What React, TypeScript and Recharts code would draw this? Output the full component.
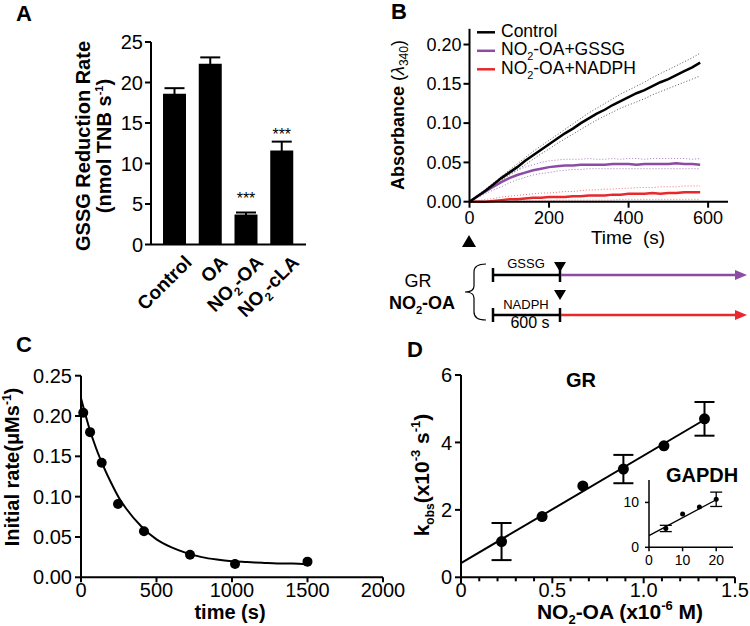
import React from "react";
import {
  BarChart, Bar, XAxis, YAxis, ErrorBar, LabelList,
  LineChart, Line, ComposedChart, Scatter,
} from "recharts";

const FONT = '"Liberation Sans", Arial, Helvetica, sans-serif';
const PURPLE = "#8d4ba6";
const RED = "#e8282c";

// A: GSSG reduction rate
const rateCats = ["Control", "OA", "NO2-OA", "NO2-cLA"];
const rateMeans = [18.6, 22.3, 3.7, 11.6];
const rateErrs = [0.7, 0.8, 0.25, 1.1];
const rateSig = ["", "", "***", "***"];

// B: absorbance traces (s)
const bTime = [0, 20, 40, 60, 80, 100, 120, 140, 160, 180, 200, 220, 240, 260, 280, 300, 320, 340, 360, 380, 400, 420, 440, 460, 480, 500, 520, 540, 560, 580];
const ctrl = [0, 0.007, 0.014, 0.022, 0.030, 0.037, 0.044, 0.052, 0.059, 0.066, 0.073, 0.080, 0.087, 0.093, 0.100, 0.106, 0.112, 0.117, 0.123, 0.128, 0.133, 0.138, 0.142, 0.147, 0.152, 0.156, 0.161, 0.166, 0.171, 0.177];
const ctrlHi = [0, 0.008, 0.016, 0.024, 0.032, 0.040, 0.048, 0.056, 0.064, 0.071, 0.078, 0.085, 0.092, 0.099, 0.106, 0.113, 0.119, 0.125, 0.131, 0.137, 0.142, 0.147, 0.152, 0.158, 0.163, 0.168, 0.173, 0.178, 0.183, 0.189];
const ctrlLo = [0, 0.006, 0.012, 0.019, 0.027, 0.034, 0.040, 0.047, 0.054, 0.061, 0.067, 0.074, 0.080, 0.086, 0.092, 0.098, 0.104, 0.109, 0.114, 0.119, 0.123, 0.127, 0.131, 0.136, 0.140, 0.144, 0.148, 0.152, 0.156, 0.160];
const gssg = [0, 0.007, 0.013, 0.019, 0.025, 0.030, 0.034, 0.037, 0.040, 0.042, 0.044, 0.045, 0.046, 0.046, 0.047, 0.047, 0.047, 0.047, 0.048, 0.048, 0.048, 0.047, 0.048, 0.048, 0.048, 0.048, 0.049, 0.048, 0.048, 0.047];
const gssgHi = [0, 0.008, 0.015, 0.022, 0.029, 0.035, 0.040, 0.044, 0.047, 0.050, 0.052, 0.053, 0.054, 0.054, 0.054, 0.055, 0.054, 0.054, 0.055, 0.054, 0.055, 0.055, 0.054, 0.055, 0.055, 0.055, 0.055, 0.055, 0.054, 0.055];
const gssgLo = [0, 0.005, 0.010, 0.015, 0.019, 0.024, 0.028, 0.031, 0.034, 0.036, 0.037, 0.039, 0.040, 0.041, 0.041, 0.042, 0.042, 0.042, 0.042, 0.042, 0.042, 0.042, 0.042, 0.042, 0.042, 0.042, 0.042, 0.042, 0.042, 0.042];
const nadph = [0, 0, 0, 0.001, 0.002, 0.003, 0.003, 0.004, 0.005, 0.005, 0.006, 0.006, 0.006, 0.007, 0.007, 0.008, 0.008, 0.008, 0.009, 0.009, 0.010, 0.010, 0.010, 0.011, 0.010, 0.011, 0.011, 0.012, 0.012, 0.012];
const nadphHi = [0, 0.001, 0.003, 0.004, 0.006, 0.007, 0.008, 0.009, 0.010, 0.011, 0.011, 0.012, 0.013, 0.013, 0.014, 0.015, 0.015, 0.016, 0.016, 0.017, 0.017, 0.018, 0.018, 0.018, 0.019, 0.019, 0.019, 0.020, 0.020, 0.020];
const nadphLo = [0, 0, 0, 0, 0, 0, 0.001, 0.001, 0.001, 0.001, 0.001, 0.002, 0.002, 0.002, 0.002, 0.002, 0.002, 0.002, 0.002, 0.003, 0.003, 0.003, 0.003, 0.003, 0.003, 0.003, 0.003, 0.003, 0.003, 0.003];
const bTicksX = [0, 200, 400, 600];
const bTicksY = [0, 0.05, 0.1, 0.15, 0.2];

// C: initial rate vs preincubation time
const cTime = [15, 60, 137, 245, 417, 722, 1020, 1500];
const cRate = [0.204, 0.180, 0.142, 0.091, 0.057, 0.028, 0.0165, 0.0194];
const cFitTime = [0, 50, 100, 150, 200, 250, 300, 400, 500, 600, 700, 800, 900, 1000, 1100, 1200, 1300, 1400, 1500];
const cFitRate = [0.222, 0.188, 0.160, 0.137, 0.117, 0.099, 0.085, 0.063, 0.047, 0.037, 0.030, 0.025, 0.022, 0.020, 0.019, 0.018, 0.017, 0.017, 0.016];

// D: kobs vs NO2-OA, GR and GAPDH inset
const grConc = [0.222, 0.444, 0.667, 0.889, 1.111, 1.333];
const grK = [1.06, 1.80, 2.71, 3.21, 3.90, 4.70];
const grErr = [0.55, 0, 0, 0.42, 0, 0.5];
const grFitX = [0, 1.335];
const grFitY = [0.42, 4.68];
const dTicksX = [0, 0.1, 0.2, 0.3, 0.4, 0.5, 0.6, 0.7, 0.8, 0.9, 1.0, 1.1, 1.2, 1.3, 1.4, 1.5];
const gapdhConc = [5, 10, 15, 20];
const gapdhK = [4.2, 7.4, 9.0, 10.7];
const gapdhErr = [0.7, 0, 0, 1.6];
const gapdhFitX = [0, 20];
const gapdhFitY = [2.6, 10.6];

const barData = rateCats.map((c, i) => ({ cat: c, v: rateMeans[i], err: rateErrs[i], sig: rateSig[i] }));
const traceData = bTime.map((t, i) => ({
  t, ctrl: ctrl[i], ctrlHi: ctrlHi[i], ctrlLo: ctrlLo[i],
  gssg: gssg[i], gssgHi: gssgHi[i], gssgLo: gssgLo[i],
  nadph: nadph[i], nadphHi: nadphHi[i], nadphLo: nadphLo[i],
}));
const cPts = cTime.map((x, i) => ({ x, y: cRate[i] }));
const cFit = cFitTime.map((x, i) => ({ x, y: cFitRate[i] }));
const grPts = grConc.map((x, i) => ({ x, y: grK[i], err: grErr[i] }));
const grFit = grFitX.map((x, i) => ({ x, y: grFitY[i] }));
const gaPts = gapdhConc.map((x, i) => ({ x, y: gapdhK[i], err: gapdhErr[i] }));
const gaFit = gapdhFitX.map((x, i) => ({ x, y: gapdhFitY[i] }));

const traces = [
  { key: "ctrl", name: "Control", color: "#000", band: "#555" },
  { key: "gssg", name: "NO2-OA+GSSG", color: PURPLE, band: "#a57dbd" },
  { key: "nadph", name: "NO2-OA+NADPH", color: RED, band: "#ef7373" },
];

const axisStyle = { stroke: "#000", strokeWidth: 2 };
const tickFont = (size: number) => ({ fill: "#000", fontSize: size, fontFamily: FONT });

function chem(label: string, size: number) {
  if (!label.startsWith("NO2")) return label;
  const d = size * 0.28;
  return (
    <>
      NO
      <tspan dy={d} fontSize={size * 0.62}>2</tspan>
      <tspan dy={-d}>{label.slice(3)}</tspan>
    </>
  );
}

function RotTick(props: any) {
  const { x, y, payload } = props;
  const ax = x + 18;
  const ay = y + 19;
  return (
    <text x={ax} y={ay} transform={`rotate(-45 ${ax} ${ay})`} textAnchor="end"
      fontSize={19} fontWeight="bold" fontFamily={FONT} fill="#000">
      {chem(payload.value, 19)}
    </text>
  );
}

function DTick(props: any) {
  const { x, y, payload } = props;
  const v = payload.value;
  const major = Math.abs(v * 2 - Math.round(v * 2)) < 1e-6;
  return (
    <g>
      <line x1={x} x2={x} y1={y} y2={y + (major ? 6 : 4)} stroke="#000" strokeWidth={2} />
      {major && (
        <text x={x} y={y + 20} textAnchor="middle" fontSize={20} fontFamily={FONT} fill="#000">
          {v === 0 ? "0" : v.toFixed(1)}
        </text>
      )}
    </g>
  );
}

const dot = (r: number) => (p: any) => <circle cx={p.cx} cy={p.cy} r={r} fill="#000" />;

function StarLabel(p: any) {
  if (!p.value) return null;
  return (
    <text x={p.x + p.width / 2} y={p.y - 11} textAnchor="middle" fontSize={16} fontFamily={FONT} fill="#000">
      {p.value}
    </text>
  );
}

function Overlay() {
  const bold = { fontWeight: "bold" as const };
  return (
    <svg width={750} height={626} style={{ position: "absolute", left: 0, top: 0, pointerEvents: "none" }}
      fontFamily={FONT} fill="#000">
      {/* panel letters */}
      <text x={16} y={20.5} fontSize={22} {...bold}>A</text>
      <text x={391} y={19} fontSize={22} {...bold}>B</text>
      <text x={16} y={352} fontSize={22} {...bold}>C</text>
      <text x={407} y={357} fontSize={22} {...bold}>D</text>

      {/* A axis title */}
      <text x={90} y={146} transform="rotate(-90 90 146)" textAnchor="middle" fontSize={20} {...bold}>
        GSSG Reduction Rate
      </text>
      <text x={111} y={146} transform="rotate(-90 111 146)" textAnchor="middle" fontSize={20} {...bold}>
        (nmol TNB s<tspan dy={-8} fontSize={11}>-1</tspan><tspan dy={8}>)</tspan>
      </text>

      {/* B axis titles */}
      <text x={404} y={115} transform="rotate(-90 404 115)" textAnchor="middle" fontSize={18}>
        <tspan {...bold}>Absorbance</tspan> (<tspan fontStyle="italic">λ</tspan>
        <tspan dy={4} fontSize={12}>340</tspan><tspan dy={-4}>)</tspan>
      </text>
      <text x={628} y={244} textAnchor="middle" fontSize={19} style={{ whiteSpace: "pre" }}>Time  (s)</text>

      {/* B legend */}
      {traces.map((s, i) => (
        <g key={s.key}>
          <line x1={477} x2={495} y1={32.3 + i * 18.5} y2={32.3 + i * 18.5} stroke={s.color} strokeWidth={2.5} />
          <text x={501} y={36.5 + i * 18.7} fontSize={17.5}>{chem(s.name, 17.5)}</text>
        </g>
      ))}

      {/* B protocol scheme */}
      <polygon points="469,235 462,247 476,247" fill="#000" />
      <text x={418} y={287} textAnchor="middle" fontSize={18}>GR</text>
      <text x={422} y={309} textAnchor="middle" fontSize={18} {...bold}>{chem("NO2-OA", 18)}</text>
      <path d="M486,264 Q474,264 474,272 L474,286 Q474,292 465,292 Q474,292 474,298 L474,312 Q474,320 486,320"
        fill="none" stroke="#000" strokeWidth={1.2} />
      <text x={526} y={268} textAnchor="middle" fontSize={13}>GSSG</text>
      <text x={526} y={309} textAnchor="middle" fontSize={13}>NADPH</text>
      <text x={530} y={328} textAnchor="middle" fontSize={16}>600 s</text>
      {[275, 315].map((yy, i) => (
        <g key={yy}>
          <line x1={493} x2={560} y1={yy} y2={yy} stroke="#000" strokeWidth={2.5} />
          <line x1={493} x2={493} y1={yy - 7} y2={yy + 7} stroke="#000" strokeWidth={2.5} />
          <line x1={560} x2={560} y1={yy - 7} y2={yy + 7} stroke="#000" strokeWidth={2.5} />
          <line x1={561} x2={737} y1={yy} y2={yy} stroke={i === 0 ? PURPLE : RED} strokeWidth={2.5} />
          <polygon points={`735,${yy - 5} 747,${yy} 735,${yy + 5}`} fill={i === 0 ? PURPLE : RED} />
          <polygon points={`554,${yy - 13 - i * 12} 566,${yy - 13 - i * 12} 560,${yy - 3 - i * 12}`} fill="#000" />
        </g>
      ))}

      {/* C axis titles */}
      <text x={19} y={467} transform="rotate(-90 19 467)" textAnchor="middle" fontSize={20} {...bold}>
        Initial rate(μMs<tspan dy={-8} fontSize={12}>-1</tspan><tspan dy={8}>)</tspan>
      </text>
      <text x={230} y={619} textAnchor="middle" fontSize={20} {...bold}>time (s)</text>

      {/* D axis titles */}
      <text x={429} y={475} transform="rotate(-90 429 475)" textAnchor="middle" fontSize={21} {...bold}>
        k<tspan dy={5} fontSize={12}>obs</tspan><tspan dy={-5}>(x10</tspan>
        <tspan dy={-9} fontSize={13}>-3</tspan><tspan dy={9}> s</tspan>
        <tspan dy={-9} fontSize={13}>-1</tspan><tspan dy={9}>)</tspan>
      </text>
      <text x={620} y={619} textAnchor="middle" fontSize={21} {...bold}>
        NO<tspan dy={5} fontSize={13}>2</tspan><tspan dy={-5}>-OA (x10</tspan>
        <tspan dy={-9} fontSize={13}>-6</tspan><tspan dy={9}> M)</tspan>
      </text>
      <text x={581} y={387} textAnchor="middle" fontSize={20} {...bold}>GR</text>
      <text x={702} y={482} textAnchor="middle" fontSize={20} {...bold}>GAPDH</text>
    </svg>
  );
}

export default function App() {
  const abs = (left: number, top: number) => ({ position: "absolute" as const, left, top });
  return (
    <div style={{ position: "absolute", left: 0, top: 0, width: 750, height: 626, background: "#fff", fontFamily: FONT }}>
      {/* A */}
      <div style={abs(0, 0)}>
        <BarChart width={330} height={345} data={barData} margin={{ top: 42, right: 24, left: 100, bottom: 0 }} barSize={23}>
          <XAxis dataKey="cat" height={100.5} axisLine={axisStyle} tickLine={false} tickSize={0} tickMargin={0}
            padding={{ left: 6, right: 6 }} interval={0} tick={<RotTick />} />
          <YAxis width={51} domain={[0, 25]} ticks={[0, 5, 10, 15, 20, 25]} interval={0} axisLine={axisStyle}
            tickLine={axisStyle} tickSize={6} tickMargin={2} tick={tickFont(20)} />
          <Bar dataKey="v" fill="#000" isAnimationActive={false}>
            <ErrorBar dataKey="err" width={10} stroke="#000" strokeWidth={2} direction="y" />
            <LabelList dataKey="sig" content={StarLabel} />
          </Bar>
        </BarChart>
      </div>

      {/* B */}
      <div style={abs(380, 0)}>
        <LineChart width={370} height={260} data={traceData} margin={{ top: 28.8, right: 22, left: 39.5, bottom: 28.3 }}>
          <XAxis dataKey="t" type="number" domain={[0, 650]} ticks={bTicksX} interval={0} height={30}
            axisLine={axisStyle} tickLine={axisStyle} tickSize={6} tickMargin={4} tick={tickFont(18)} />
          <YAxis type="number" domain={[0, 0.22]} ticks={bTicksY} interval={0} width={50}
            axisLine={axisStyle} tickLine={axisStyle} tickSize={6} tickMargin={2} tick={tickFont(18)}
            tickFormatter={(v: number) => v.toFixed(2)} />
          {traces.map((s) => (
            <Line key={s.key + "Hi"} dataKey={s.key + "Hi"} stroke={s.band} strokeWidth={1} strokeDasharray="1 2"
              dot={false} isAnimationActive={false} />
          ))}
          {traces.map((s) => (
            <Line key={s.key + "Lo"} dataKey={s.key + "Lo"} stroke={s.band} strokeWidth={1} strokeDasharray="1 2"
              dot={false} isAnimationActive={false} />
          ))}
          {traces.slice().reverse().map((s) => (
            <Line key={s.key} dataKey={s.key} stroke={s.color} strokeWidth={2.5} dot={false} isAnimationActive={false} />
          ))}
        </LineChart>
      </div>

      {/* C */}
      <div style={abs(0, 300)}>
        <ComposedChart width={420} height={326} margin={{ top: 75.7, right: 37, left: 26, bottom: 18.7 }}>
          <XAxis dataKey="x" type="number" domain={[0, 2000]} ticks={[0, 500, 1000, 1500, 2000]} interval={0} height={30}
            axisLine={axisStyle} tickLine={axisStyle} tickSize={5} tickMargin={0} tick={tickFont(20)} />
          <YAxis dataKey="y" type="number" domain={[0, 0.25]} ticks={[0, 0.05, 0.1, 0.15, 0.2, 0.25]} interval={0} width={55}
            axisLine={axisStyle} tickLine={axisStyle} tickSize={6} tickMargin={3} tick={tickFont(20)}
            tickFormatter={(v: number) => v.toFixed(2)} />
          <Line data={cFit} dataKey="y" type="monotone" stroke="#000" strokeWidth={2} dot={false} isAnimationActive={false} />
          <Scatter data={cPts} dataKey="y" shape={dot(5)} isAnimationActive={false} />
        </ComposedChart>
      </div>

      {/* D */}
      <div style={abs(380, 300)}>
        <ComposedChart width={370} height={326} margin={{ top: 75, right: 15, left: 41, bottom: 18.7 }}>
          <XAxis dataKey="x" type="number" domain={[0, 1.5]} ticks={dTicksX} interval={0} height={30}
            axisLine={axisStyle} tickLine={false} tickSize={0} tickMargin={0} tick={<DTick />} />
          <YAxis dataKey="y" type="number" domain={[0, 6]} ticks={[0, 2, 4, 6]} interval={0} width={40}
            axisLine={axisStyle} tickLine={axisStyle} tickSize={6} tickMargin={3} tick={tickFont(20)} />
          <Line data={grFit} dataKey="y" stroke="#000" strokeWidth={2} dot={false} isAnimationActive={false} />
          <Scatter data={grPts} dataKey="y" shape={dot(5.5)} isAnimationActive={false}>
            <ErrorBar dataKey="err" width={10} stroke="#000" strokeWidth={2} direction="y" />
          </Scatter>
        </ComposedChart>
      </div>

      {/* D inset */}
      <div style={abs(600, 460)}>
        <ComposedChart width={140} height={110} margin={{ top: 20, right: 7, left: 24, bottom: 2.7 }}>
          <XAxis dataKey="x" type="number" domain={[0, 25]} ticks={[0, 10, 20]} interval={0} height={20}
            axisLine={{ stroke: "#000", strokeWidth: 1.5 }} tickLine={{ stroke: "#000", strokeWidth: 1.5 }}
            tickSize={4} tickMargin={4} tick={tickFont(14)} />
          <YAxis dataKey="y" type="number" domain={[0, 15]} ticks={[0, 10]} interval={0} width={25}
            axisLine={{ stroke: "#000", strokeWidth: 1.5 }} tickLine={{ stroke: "#000", strokeWidth: 1.5 }}
            tickSize={4} tickMargin={6} tick={tickFont(14)} />
          <Line data={gaFit} dataKey="y" stroke="#000" strokeWidth={1.3} dot={false} isAnimationActive={false} />
          <Scatter data={gaPts} dataKey="y" shape={dot(2.5)} isAnimationActive={false}>
            <ErrorBar dataKey="err" width={6} stroke="#000" strokeWidth={1.3} direction="y" />
          </Scatter>
        </ComposedChart>
      </div>

      <Overlay />
    </div>
  );
}
